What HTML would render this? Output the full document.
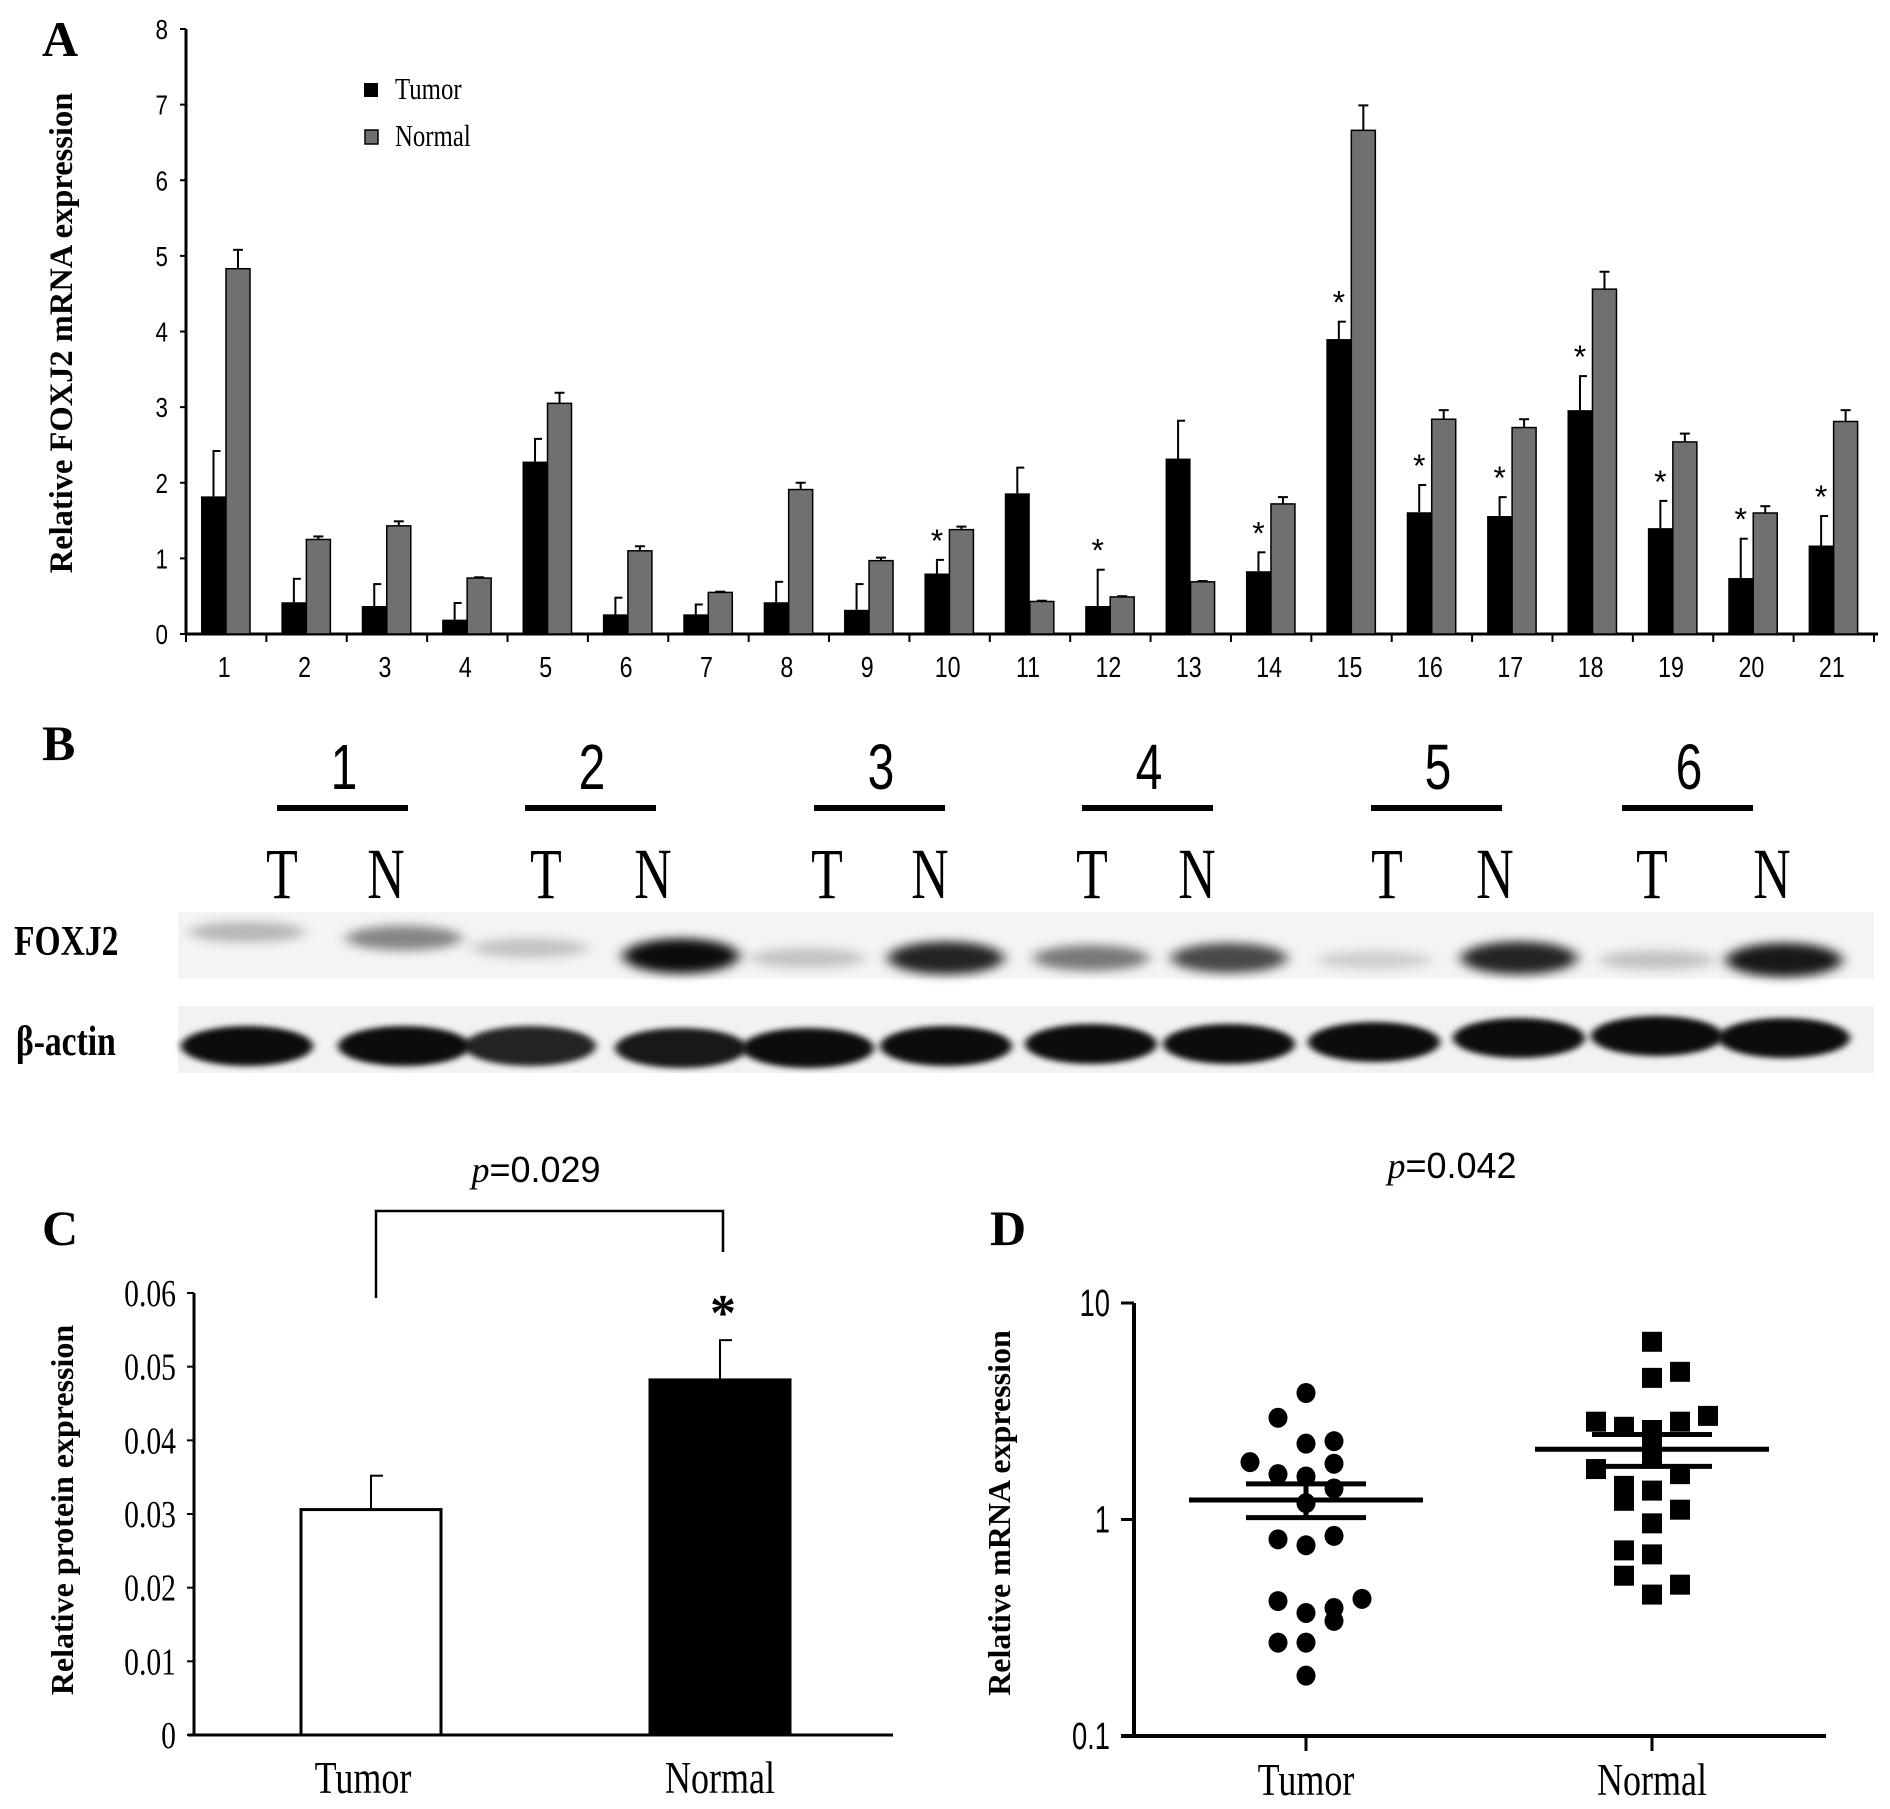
<!DOCTYPE html>
<html><head><meta charset="utf-8"><style>
html,body{margin:0;padding:0;background:#fff;}
svg{display:block;}
.serif{font-family:"Liberation Serif",serif;}
.sans{font-family:"Liberation Sans",sans-serif;}
</style></head><body>
<svg id="fig" width="1890" height="1809" viewBox="0 0 1890 1809" xmlns="http://www.w3.org/2000/svg">
<defs>
<filter id="blur" x="-30%" y="-100%" width="160%" height="300%"><feGaussianBlur stdDeviation="7 5"/></filter>
<filter id="blur2" x="-20%" y="-100%" width="140%" height="300%"><feGaussianBlur stdDeviation="4 3"/></filter>
</defs>
<g id="panelA"></g>
<g id="panelB"></g>
<g id="panelC"></g>
<g id="panelD"></g>
</svg>
<script>
// ---- Panel A data ----
const aCategories = ["1","2","3","4","5","6","7","8","9","10","11","12","13","14","15","16","17","18","19","20","21"];
const aTumor = [1.82,0.42,0.37,0.19,2.28,0.26,0.26,0.42,0.32,0.80,1.86,0.37,2.32,0.83,3.90,1.61,1.56,2.96,1.40,0.74,1.17];
const aTumorErr = [0.60,0.31,0.29,0.22,0.30,0.22,0.13,0.27,0.34,0.18,0.34,0.48,0.50,0.25,0.23,0.36,0.25,0.45,0.36,0.52,0.39];
const aNormal = [4.83,1.25,1.43,0.74,3.05,1.10,0.55,1.91,0.97,1.38,0.43,0.49,0.69,1.72,6.66,2.84,2.73,4.56,2.54,1.60,2.81];
const aNormalErr = [0.25,0.04,0.06,0.01,0.14,0.06,0.01,0.09,0.04,0.04,0.01,0.01,0.01,0.09,0.33,0.12,0.11,0.23,0.11,0.09,0.15];
const aStar = [0,0,0,0,0,0,0,0,0,1,0,1,0,1,1,1,1,1,1,1,1];
const aYTicks = [0,1,2,3,4,5,6,7,8];
// ---- Panel C data ----
const cGroups = ["Tumor","Normal"];
const cValues = [0.0306,0.0482];
const cErr = [0.0046,0.0054];
const cYTicks = ["0","0.01","0.02","0.03","0.04","0.05","0.06"];
// ---- Panel D data ----
const dGroups = ["Tumor","Normal"];
const dTumor = [3.84,2.95,2.24,2.30,1.84,1.81,1.62,1.58,1.39,1.19,0.81,0.84,0.76,0.42,0.43,0.37,0.39,0.34,0.27,0.27,0.19];
const dTumorCol = [0,-1,0,1,-2,1,-1,0,1,0,-1,1,0,-1,2,0,1,1,-1,0,0];
const dNormal = [6.62,4.51,4.81,3.01,2.83,2.83,2.68,2.59,2.12,1.91,1.71,1.62,1.43,1.36,1.22,1.11,0.96,0.72,0.69,0.55,0.50,0.45];
const dNormalCol = [0,0,1,2,-2,1,-1,0,0,0,-2,1,-1,0,-1,1,0,-1,0,-1,1,0];
const dMean = [1.23,2.11];
const dSemLow = [1.02,1.76];
const dSemHigh = [1.46,2.47];
const dYTicks = [0.1,1,10];
// ---- Panel B data (band intensity 0..1) ----
const bPatients = ["1","2","3","4","5","6"];
const bFoxj2 = [0.25,0.45,0.2,0.95,0.2,0.85,0.5,0.7,0.15,0.85,0.2,0.9];
const bActin = [0.95,0.95,0.85,0.9,0.95,0.95,0.95,0.95,0.95,0.95,0.95,0.95];

const NS="http://www.w3.org/2000/svg";
function mk(parent,tag,attrs,text){const e=document.createElementNS(NS,tag);for(const k in attrs)e.setAttribute(k,attrs[k]);if(text!==undefined)e.textContent=text;parent.appendChild(e);return e;}
function ct(parent,x,y,size,cls,anchor,sx,text,extra){
 const a={x:0,y:0,'font-size':size,class:cls,'text-anchor':anchor,transform:'translate('+x+','+y+') scale('+sx+',1)'};
 if(extra)for(const k in extra)a[k]=extra[k];
 return mk(parent,'text',a,text);
}

// ===== Panel A =====
(function(){
const g=document.getElementById('panelA');
const x0=186,x1=1874,y0=634,yTop=29,n=aCategories.length,gw=(x1-x0)/n;
const ys=v=>y0-(v/8)*(y0-yTop);
let t=mk(g,'text',{x:42,y:56,'font-size':50,'font-weight':'bold',class:'serif'},'A');

t=mk(g,'text',{x:0,y:0,'font-size':32.5,'font-weight':'bold',class:'serif','text-anchor':'middle',transform:'translate(72,333) rotate(-90)'},'Relative FOXJ2 mRNA expression');

let l=mk(g,'line',{x1:x0,y1:yTop,x2:x0,y2:y0,stroke:'#000','stroke-width':3});

l=mk(g,'line',{x1:x0,y1:y0,x2:x1+4,y2:y0,stroke:'#000','stroke-width':3});

aYTicks.forEach(v=>{
 const tk=mk(g,'line',{x1:x0-6,y1:ys(v),x2:x0,y2:ys(v),stroke:'#000','stroke-width':2});
 
 const tl=ct(g,x0-18,ys(v)+10,28,'sans','end',0.8,String(v));
 
});
for(let i=0;i<=n;i++){const tk=mk(g,'line',{x1:x0+i*gw,y1:y0,x2:x0+i*gw,y2:y0+8,stroke:'#000','stroke-width':2});
 }
aCategories.forEach((c,i)=>{
 const gx=x0+i*gw;
 const tl=ct(g,gx+gw/2-2,y0+43,29,'sans','middle',0.8,c);
 
 const tx=gx+15,tw=25,nx=gx+40,nw=24;
 const te=ys(aTumor[i]+aTumorErr[i]);
 let e=mk(g,'line',{x1:tx+tw/2,y1:te,x2:tx+tw/2,y2:ys(aTumor[i]),stroke:'#000','stroke-width':2});
 
 e=mk(g,'line',{x1:tx+tw/2-1,y1:te,x2:tx+tw/2+7,y2:te,stroke:'#000','stroke-width':2});
 
 const ne=ys(aNormal[i]+aNormalErr[i]);
 e=mk(g,'line',{x1:nx+nw/2,y1:ne,x2:nx+nw/2,y2:ys(aNormal[i]),stroke:'#000','stroke-width':2});
 
 e=mk(g,'line',{x1:nx+nw/2-5,y1:ne,x2:nx+nw/2+5,y2:ne,stroke:'#000','stroke-width':2});
 
 let r=mk(g,'rect',{x:tx,y:ys(aTumor[i]),width:tw,height:y0-ys(aTumor[i]),fill:'#000'});
 
 r=mk(g,'rect',{x:nx,y:ys(aNormal[i]),width:nw,height:y0-ys(aNormal[i]),fill:'#707070',stroke:'#000','stroke-width':1.5});
 
 if(aStar[i]){const s=mk(g,'text',{x:tx+tw/2,y:te-8,'font-size':32,class:'sans','text-anchor':'middle'},'*');
  }
});
let s=mk(g,'rect',{x:364,y:83,width:14,height:14,fill:'#000'});
s=mk(g,'rect',{x:365,y:130,width:13,height:14,fill:'#707070',stroke:'#000','stroke-width':1.5});
t=ct(g,395,99,31,'serif','start',0.8,'Tumor');
t=ct(g,395,146,31,'serif','start',0.8,'Normal');
})();

// ===== Panel B =====
(function(){
const g=document.getElementById('panelB');
let t=mk(g,'text',{x:42,y:760,'font-size':50,'font-weight':'bold',class:'serif'},'B');

const pc=[344,592,881,1149,1438,1689];
const tX=[282,546,827,1092,1387,1652], nX=[386,653,930,1197,1495,1772];
bPatients.forEach((p,i)=>{
 let n=ct(g,pc[i],789,64,'sans','middle',0.75,p);
 
 let l=mk(g,'rect',{x:pc[i]-67,y:805,width:131,height:6,fill:'#000'});
 
 n=ct(g,tX[i],898,72,'serif','middle',0.72,'T');
 
 n=ct(g,nX[i],898,72,'serif','middle',0.72,'N');
 
});
t=ct(g,14,955,42,'serif','start',0.8,'FOXJ2',{'font-weight':'bold'});

t=ct(g,16,1055,42,'serif','start',0.8,'β-actin',{'font-weight':'bold'});

let r=mk(g,'rect',{x:178,y:912,width:1696,height:67,fill:'#f4f4f4'});

r=mk(g,'rect',{x:178,y:1006,width:1696,height:67,fill:'#f2f2f2'});

const laneX=[247,404,530,681,808,946,1091,1229,1374,1519,1657,1784];
const fy=[932,938,948,956,958,958,958,958,960,958,960,960];
const ay=[1046,1046,1046,1048,1048,1046,1044,1044,1042,1038,1036,1038];
laneX.forEach((x,i)=>{
 const v=bFoxj2[i];
 let e=mk(g,'ellipse',{cx:x,cy:fy[i],rx:58,ry:8+10*v,fill:'#000','fill-opacity':v,filter:'url(#blur)'});
 
 const a=bActin[i];
 e=mk(g,'ellipse',{cx:x,cy:ay[i],rx:66,ry:20,fill:'#000','fill-opacity':a,filter:'url(#blur2)'});
 
});
})();

// ===== Panel C =====
(function(){
const g=document.getElementById('panelC');
const x0=194,x1=893,y0=1735,yTop=1293;
const ys=v=>y0-(v/0.06)*(y0-yTop);
let t=mk(g,'text',{x:42,y:1245,'font-size':50,'font-weight':'bold',class:'serif'},'C');

t=mk(g,'text',{x:0,y:0,'font-size':32,'font-weight':'bold',class:'serif','text-anchor':'middle',transform:'translate(73,1510) rotate(-90)'},'Relative protein expression');

let l=mk(g,'line',{x1:x0,y1:yTop,x2:x0,y2:y0,stroke:'#000','stroke-width':3});
l=mk(g,'line',{x1:x0-6,y1:y0,x2:x1,y2:y0,stroke:'#000','stroke-width':3});
cYTicks.forEach(s=>{const v=parseFloat(s);
 const tk=mk(g,'line',{x1:x0-7,y1:ys(v),x2:x0,y2:ys(v),stroke:'#000','stroke-width':2});
 const tl=ct(g,176,ys(v)+13,38,'serif','end',0.78,s);});
const bx=[301,650],bw=140;
cGroups.forEach((c,i)=>{
 const cx=bx[i]+bw/2,et=ys(cValues[i]+cErr[i]);
 let e=mk(g,'line',{x1:cx,y1:et,x2:cx,y2:ys(cValues[i]),stroke:'#000','stroke-width':2});
 e=mk(g,'line',{x1:cx-1,y1:et,x2:cx+12,y2:et,stroke:'#000','stroke-width':2});
 const r=mk(g,'rect',{x:bx[i],y:ys(cValues[i]),width:bw,height:y0-ys(cValues[i]),fill:i?'#000':'#fff',stroke:'#000','stroke-width':3});
 
 const tl=ct(g,cx-(i?0:8),1793,45,'serif','middle',0.8,c);
});
const br=mk(g,'polyline',{points:'376,1298 376,1211 723,1211 723,1252',fill:'none',stroke:'#000','stroke-width':2.5});

t=mk(g,'text',{x:536,y:1182,'font-size':36,class:'sans','text-anchor':'middle'});

mk(t,'tspan',{'font-style':'italic','font-family':'Liberation Serif, serif'},'p');mk(t,'tspan',{},'=0.029');
t=mk(g,'text',{x:723,y:1330,'font-size':52,'font-weight':'bold',class:'serif','text-anchor':'middle'},'*');

})();

// ===== Panel D =====
(function(){
const g=document.getElementById('panelD');
const x0=1134,x1=1826,yTop=1303,y0=1736;
const ys=v=>1519.5-Math.log10(v)*216.5;
const gx=[1306,1652],col=28,half=10;
let t=mk(g,'text',{x:990,y:1245,'font-size':50,'font-weight':'bold',class:'serif'},'D');

t=mk(g,'text',{x:0,y:0,'font-size':32,'font-weight':'bold',class:'serif','text-anchor':'middle',transform:'translate(1010,1513) rotate(-90)'},'Relative mRNA expression');

let l=mk(g,'line',{x1:x0,y1:yTop,x2:x0,y2:y0,stroke:'#000','stroke-width':4});
l=mk(g,'line',{x1:x0-13,y1:y0,x2:x1,y2:y0,stroke:'#000','stroke-width':4});
dYTicks.forEach(v=>{
 const tk=mk(g,'line',{x1:x0-13,y1:ys(v),x2:x0,y2:ys(v),stroke:'#000','stroke-width':3});
 const tl=ct(g,1110,ys(v)+13,38,'sans','end',0.72,String(v));});
dGroups.forEach((c,i)=>{
 const tk=mk(g,'line',{x1:gx[i],y1:y0,x2:gx[i],y2:y0+15,stroke:'#000','stroke-width':3});
 const tl=ct(g,gx[i],1795,45,'serif','middle',0.8,c);
});
dTumor.forEach((v,i)=>{const c=mk(g,'ellipse',{cx:gx[0]+dTumorCol[i]*col,cy:ys(v),rx:9.5,ry:10,fill:'#000'});
 });
dNormal.forEach((v,i)=>{const r=mk(g,'rect',{x:gx[1]+dNormalCol[i]*col-half,y:ys(v)-half,width:2*half,height:2*half,fill:'#000'});
 });
const mw=[117,117],sw=60;
dGroups.forEach((c,i)=>{
 let m=mk(g,'line',{x1:gx[i]-mw[i],y1:ys(dMean[i]),x2:gx[i]+mw[i],y2:ys(dMean[i]),stroke:'#000','stroke-width':5});
 
 m=mk(g,'line',{x1:gx[i]-sw,y1:ys(dSemLow[i]),x2:gx[i]+sw,y2:ys(dSemLow[i]),stroke:'#000','stroke-width':5});
 
 m=mk(g,'line',{x1:gx[i]-sw,y1:ys(dSemHigh[i]),x2:gx[i]+sw,y2:ys(dSemHigh[i]),stroke:'#000','stroke-width':5});
 
 m=mk(g,'line',{x1:gx[i],y1:ys(dSemLow[i]),x2:gx[i],y2:ys(dSemHigh[i]),stroke:'#000','stroke-width':5});
 
});
t=mk(g,'text',{x:1452,y:1178,'font-size':36,class:'sans','text-anchor':'middle'});

mk(t,'tspan',{'font-style':'italic','font-family':'Liberation Serif, serif'},'p');mk(t,'tspan',{},'=0.042');
})();
</script>
</body></html>
